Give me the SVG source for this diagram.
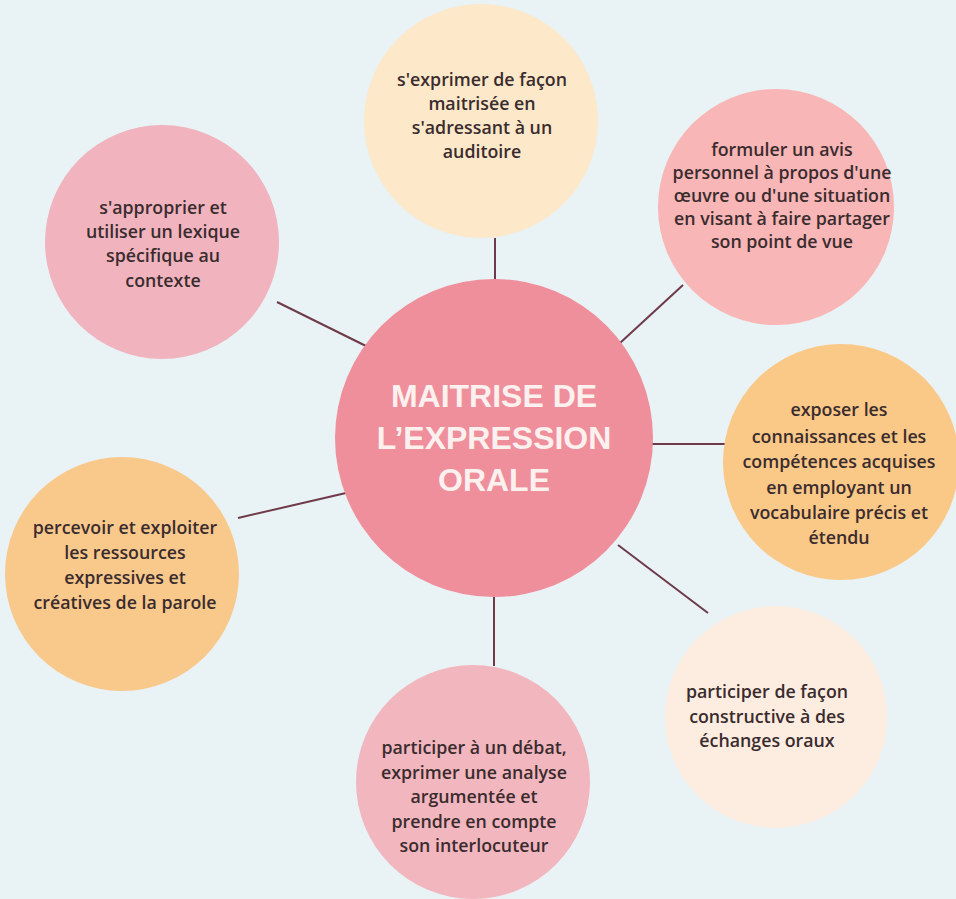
<svg xmlns="http://www.w3.org/2000/svg" width="956" height="899" viewBox="0 0 956 899">
<style>
.t{font-family:"Open Sans","Noto Sans",sans-serif;font-size:17.8px;font-weight:600;fill:#3a2c2e;text-anchor:middle}
.c{font-family:"Liberation Sans",Arial,sans-serif;font-size:32px;font-weight:bold;fill:#fdf1ef;text-anchor:middle}
.ln{stroke:#6e3a4a;stroke-width:2;fill:none}
</style>
<rect width="956" height="899" fill="#e9f2f4"/>
<g id="connectors">
<line class="ln" x1="495" y1="238" x2="495" y2="281"/>
<line class="ln" x1="277" y1="302" x2="366" y2="346"/>
<line class="ln" x1="620" y1="343" x2="683" y2="285"/>
<line class="ln" x1="652" y1="444" x2="725" y2="444"/>
<line class="ln" x1="238" y1="518" x2="346" y2="493"/>
<line class="ln" x1="618" y1="545" x2="708" y2="613"/>
<line class="ln" x1="494" y1="596" x2="494" y2="666"/>
</g>
<g id="center">
<circle cx="494" cy="438" r="159" fill="#ef8f9c"/>
<text class="c" x="494" y="407">MAITRISE DE</text>
<text class="c" x="494" y="449">L’EXPRESSION</text>
<text class="c" x="494" y="491">ORALE</text>
</g>
<g id="n-top">
<circle cx="481" cy="121" r="117" fill="#fde8c9"/>
<text class="t" x="482" y="86">s'exprimer de façon</text>
<text class="t" x="482" y="110">maitrisée en</text>
<text class="t" x="482" y="134">s'adressant à un</text>
<text class="t" x="482" y="158">auditoire</text>
</g>
<g id="n-topright">
<circle cx="776" cy="207" r="118" fill="#f8b6b7"/>
<text class="t" x="782" y="156">formuler un avis</text>
<text class="t" x="782" y="179">personnel à propos d'une</text>
<text class="t" x="782" y="202">œuvre ou d'une situation</text>
<text class="t" x="782" y="225">en visant à faire partager</text>
<text class="t" x="782" y="248">son point de vue</text>
</g>
<g id="n-topleft">
<circle cx="162" cy="242" r="117" fill="#f1b4be"/>
<text class="t" x="163" y="214">s'approprier et</text>
<text class="t" x="163" y="238">utiliser un lexique</text>
<text class="t" x="163" y="262">spécifique au</text>
<text class="t" x="163" y="287">contexte</text>
</g>
<g id="n-right">
<circle cx="841" cy="462" r="118" fill="#fac887"/>
<text class="t" x="839" y="416">exposer les</text>
<text class="t" x="839" y="443">connaissances et les</text>
<text class="t" x="839" y="468">compétences acquises</text>
<text class="t" x="839" y="494">en employant un</text>
<text class="t" x="839" y="519">vocabulaire précis et</text>
<text class="t" x="839" y="544">étendu</text>
</g>
<g id="n-left">
<circle cx="122" cy="574" r="117" fill="#f9c98c"/>
<text class="t" x="125" y="534">percevoir et exploiter</text>
<text class="t" x="125" y="559">les ressources</text>
<text class="t" x="125" y="584">expressives et</text>
<text class="t" x="125" y="609">créatives de la parole</text>
</g>
<g id="n-bottomright">
<circle cx="776" cy="717" r="111" fill="#fdede0"/>
<text class="t" x="767" y="698">participer de façon</text>
<text class="t" x="767" y="723">constructive à des</text>
<text class="t" x="767" y="747">échanges oraux</text>
</g>
<g id="n-bottom">
<circle cx="473" cy="782" r="117" fill="#f2b6bf"/>
<text class="t" x="474" y="754">participer à un débat,</text>
<text class="t" x="474" y="779">exprimer une analyse</text>
<text class="t" x="474" y="803">argumentée et</text>
<text class="t" x="474" y="828">prendre en compte</text>
<text class="t" x="474" y="852">son interlocuteur</text>
</g>
</svg>
